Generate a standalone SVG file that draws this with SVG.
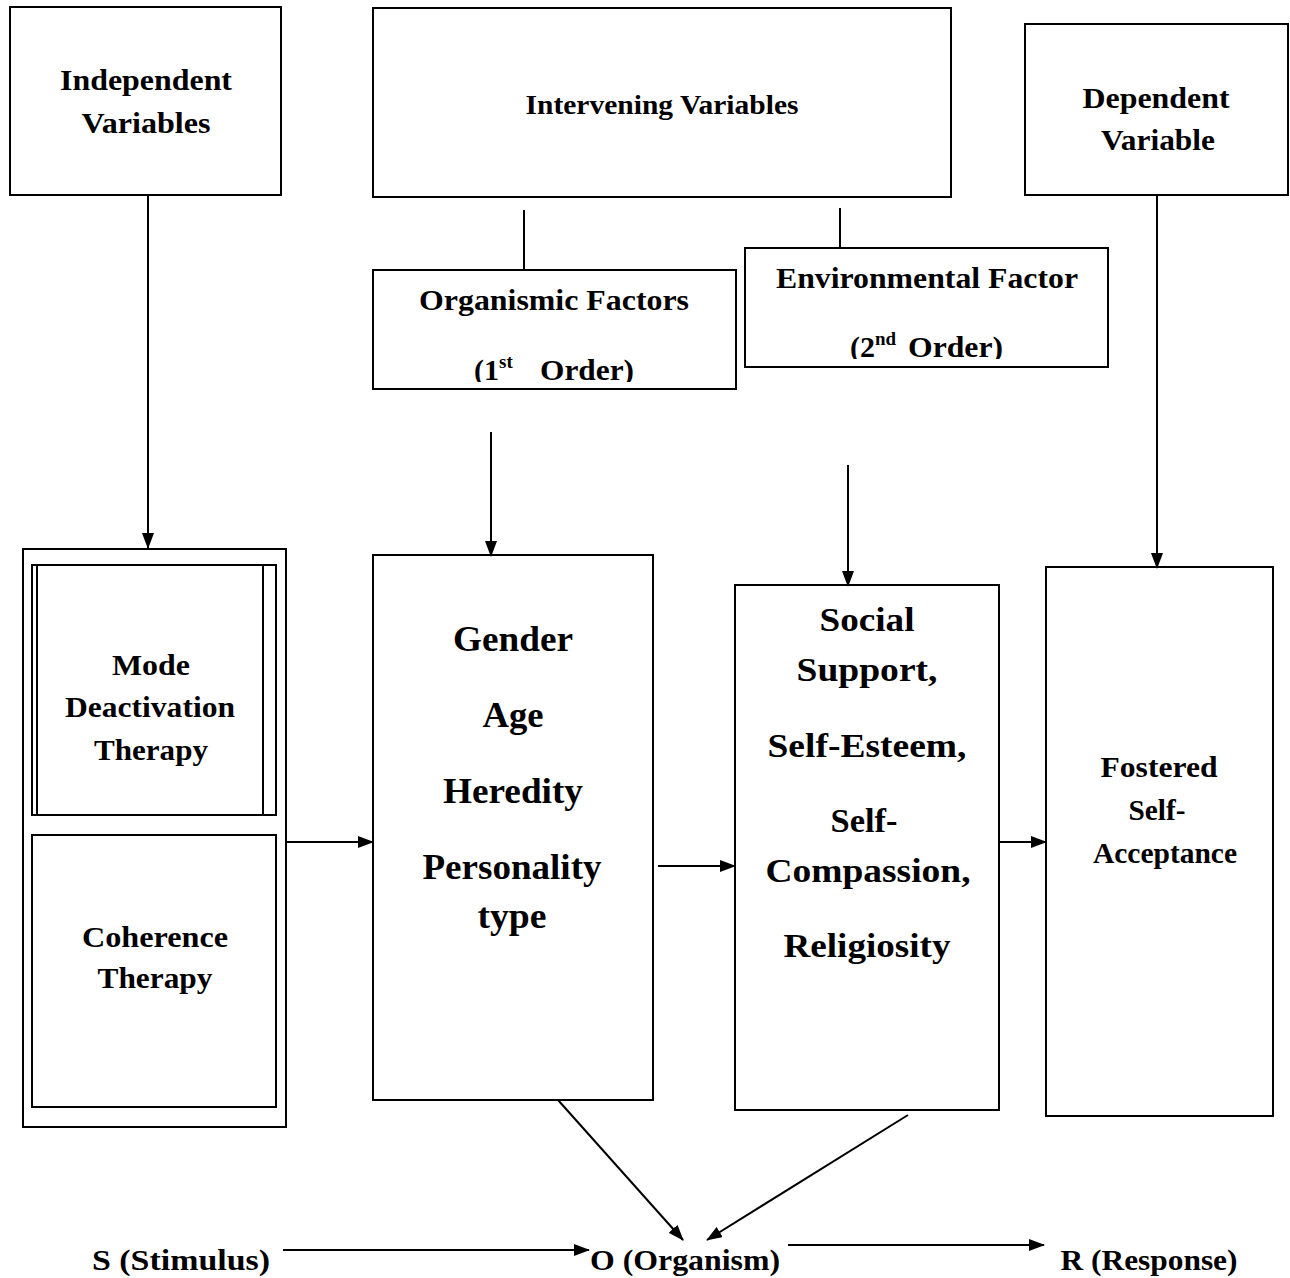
<svg xmlns="http://www.w3.org/2000/svg" width="1290" height="1278" viewBox="0 0 1290 1278">
<style>
.box{fill:#fff;stroke:#000;stroke-width:2}
.t{font-family:"Liberation Serif","Times New Roman",serif;font-weight:bold;fill:#000;text-anchor:middle}
.st{text-anchor:start}
.s30{font-size:30px}
.s28{font-size:28px}
.s36{font-size:36px}
.s34{font-size:34px}
.c{stroke:#000;stroke-width:2;fill:none}
</style>
<defs>
<marker id="ah" markerWidth="16" markerHeight="12" refX="15" refY="6" orient="auto" markerUnits="userSpaceOnUse">
<path d="M0,0 L16,6 L0,12 Z" fill="#000"/>
</marker>
<clipPath id="clipOrg"><rect x="373" y="270" width="363" height="112"/></clipPath>
<clipPath id="clipEnv"><rect x="745" y="248" width="363" height="111"/></clipPath>
</defs>
<rect width="1290" height="1278" fill="#fff"/>

<g id="independent">
<rect class="box" x="10" y="7" width="271" height="188"/>
<text class="t s30" x="146" y="90" textLength="172" lengthAdjust="spacingAndGlyphs">Independent</text>
<text class="t s30" x="146" y="133" textLength="129" lengthAdjust="spacingAndGlyphs">Variables</text>
</g>

<g id="intervening">
<rect class="box" x="373" y="8" width="578" height="189"/>
<text class="t s28" x="662" y="114" textLength="273" lengthAdjust="spacingAndGlyphs">Intervening Variables</text>
</g>

<g id="dependent">
<rect class="box" x="1025" y="24" width="263" height="171"/>
<text class="t s30" x="1156" y="108" textLength="147" lengthAdjust="spacingAndGlyphs">Dependent</text>
<text class="t s30" x="1158" y="150" textLength="114" lengthAdjust="spacingAndGlyphs">Variable</text>
</g>

<g id="organismic">
<rect class="box" x="373" y="270" width="363" height="119"/>
<text class="t s30" x="554" y="310" textLength="270" lengthAdjust="spacingAndGlyphs">Organismic Factors</text>
<g clip-path="url(#clipOrg)">
<text class="t st s30" x="474" y="380">(1<tspan font-size="19" dy="-12">st</tspan></text>
<text class="t st s30" x="540" y="380" textLength="94" lengthAdjust="spacingAndGlyphs">Order)</text>
</g>
</g>

<g id="environmental">
<rect class="box" x="745" y="248" width="363" height="119"/>
<text class="t s30" x="927" y="288" textLength="302" lengthAdjust="spacingAndGlyphs">Environmental Factor</text>
<g clip-path="url(#clipEnv)">
<text class="t st s30" x="850" y="357">(2<tspan font-size="19" dy="-12">nd</tspan></text>
<text class="t st s30" x="908" y="357" textLength="95" lengthAdjust="spacingAndGlyphs">Order)</text>
</g>
</g>

<g id="therapies">
<rect class="box" x="23" y="549" width="263" height="578"/>
<rect class="box" x="32" y="565" width="244" height="250"/>
<line class="c" x1="37" y1="565" x2="37" y2="815"/>
<line class="c" x1="263" y1="565" x2="263" y2="815"/>
<text class="t s30" x="151" y="675" textLength="78" lengthAdjust="spacingAndGlyphs">Mode</text>
<text class="t s30" x="150" y="717" textLength="170" lengthAdjust="spacingAndGlyphs">Deactivation</text>
<text class="t s30" x="151" y="760" textLength="114" lengthAdjust="spacingAndGlyphs">Therapy</text>
<rect class="box" x="32" y="835" width="244" height="272"/>
<text class="t s30" x="155" y="947" textLength="146" lengthAdjust="spacingAndGlyphs">Coherence</text>
<text class="t s30" x="155" y="988" textLength="115" lengthAdjust="spacingAndGlyphs">Therapy</text>
</g>

<g id="organismic-list">
<rect class="box" x="373" y="555" width="280" height="545"/>
<text class="t s36" x="513" y="651" textLength="120" lengthAdjust="spacingAndGlyphs">Gender</text>
<text class="t s36" x="513" y="727" textLength="61" lengthAdjust="spacingAndGlyphs">Age</text>
<text class="t s36" x="513" y="803" textLength="140" lengthAdjust="spacingAndGlyphs">Heredity</text>
<text class="t s36" x="512" y="879" textLength="179" lengthAdjust="spacingAndGlyphs">Personality</text>
<text class="t s36" x="512" y="928" textLength="69" lengthAdjust="spacingAndGlyphs">type</text>
</g>

<g id="environmental-list">
<rect class="box" x="735" y="585" width="264" height="525"/>
<text class="t s34" x="867" y="631" textLength="95" lengthAdjust="spacingAndGlyphs">Social</text>
<text class="t s34" x="867" y="681" textLength="141" lengthAdjust="spacingAndGlyphs">Support,</text>
<text class="t s34" x="867" y="757" textLength="199" lengthAdjust="spacingAndGlyphs">Self-Esteem,</text>
<text class="t s34" x="864" y="832" textLength="67" lengthAdjust="spacingAndGlyphs">Self-</text>
<text class="t s34" x="868" y="882" textLength="205" lengthAdjust="spacingAndGlyphs">Compassion,</text>
<text class="t s34" x="867" y="957" textLength="167" lengthAdjust="spacingAndGlyphs">Religiosity</text>
</g>

<g id="outcome">
<rect class="box" x="1046" y="567" width="227" height="549"/>
<text class="t s30" x="1159" y="777" textLength="117" lengthAdjust="spacingAndGlyphs">Fostered</text>
<text class="t s30" x="1157" y="820" textLength="57" lengthAdjust="spacingAndGlyphs">Self-</text>
<text class="t s30" x="1165" y="863" textLength="144" lengthAdjust="spacingAndGlyphs">Acceptance</text>
</g>

<g id="sor-labels">
<text class="t s30" x="181" y="1270" textLength="178" lengthAdjust="spacingAndGlyphs">S (Stimulus)</text>
<text class="t s30" x="685" y="1270" textLength="190" lengthAdjust="spacingAndGlyphs">O (Organism)</text>
<text class="t s30" x="1149" y="1270" textLength="177" lengthAdjust="spacingAndGlyphs">R (Response)</text>
</g>

<g id="connectors">
<line class="c" x1="148" y1="195" x2="148" y2="548" marker-end="url(#ah)"/>
<line class="c" x1="524" y1="210" x2="524" y2="270"/>
<line class="c" x1="840" y1="208" x2="840" y2="248"/>
<line class="c" x1="491" y1="432" x2="491" y2="556" marker-end="url(#ah)"/>
<line class="c" x1="848" y1="465" x2="848" y2="586" marker-end="url(#ah)"/>
<line class="c" x1="1157" y1="195" x2="1157" y2="568" marker-end="url(#ah)"/>
<line class="c" x1="286" y1="842" x2="373" y2="842" marker-end="url(#ah)"/>
<line class="c" x1="658" y1="866" x2="735" y2="866" marker-end="url(#ah)"/>
<line class="c" x1="999" y1="842" x2="1046" y2="842" marker-end="url(#ah)"/>
<line class="c" x1="558" y1="1100" x2="683" y2="1240" marker-end="url(#ah)"/>
<line class="c" x1="908" y1="1115" x2="707" y2="1240" marker-end="url(#ah)"/>
<line class="c" x1="283" y1="1250" x2="589" y2="1250" marker-end="url(#ah)"/>
<line class="c" x1="788" y1="1245" x2="1044" y2="1245" marker-end="url(#ah)"/>
</g>
</svg>
